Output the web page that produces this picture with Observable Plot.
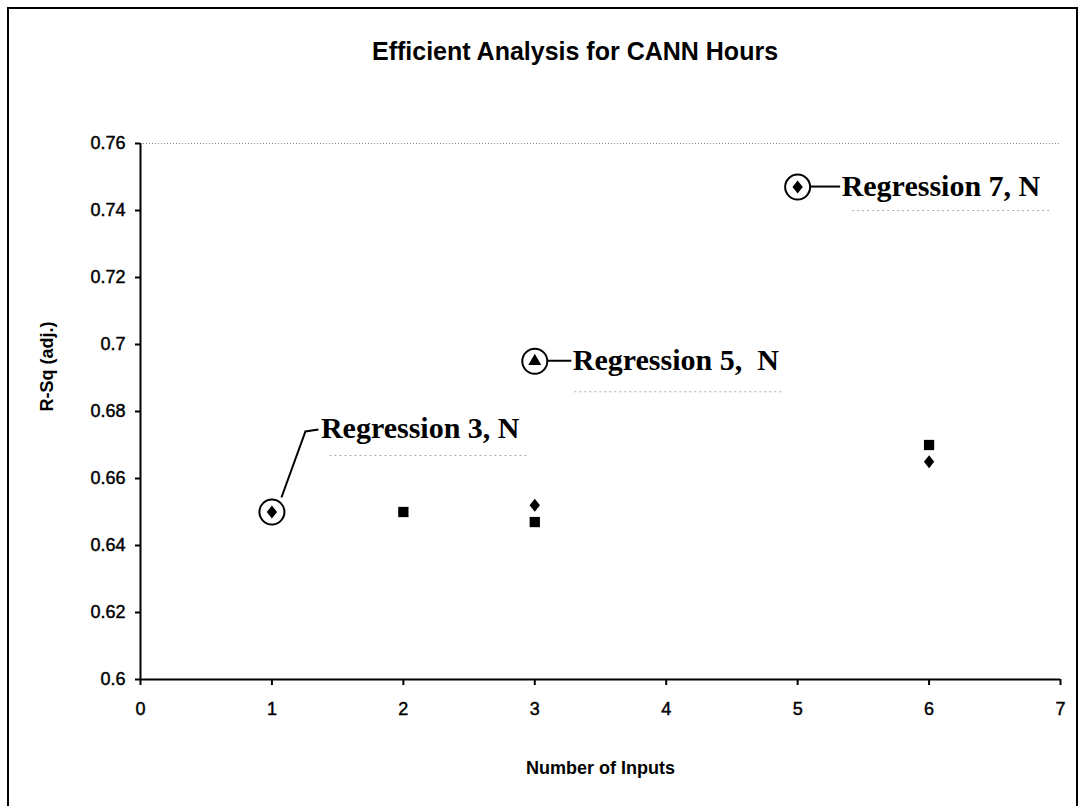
<!DOCTYPE html>
<html><head><meta charset="utf-8">
<script src="https://cdn.jsdelivr.net/npm/d3@7"></script>
<script src="https://cdn.jsdelivr.net/npm/@observablehq/plot@0.6"></script>
<style>
html,body{margin:0;padding:0;background:#fff;overflow:hidden;}
#wrap{position:relative;width:1080px;height:806px;}
#frame{position:absolute;left:7px;top:7px;width:1071px;height:830px;border:2px solid #000;border-bottom:none;box-sizing:border-box;}
#title{position:absolute;top:37px;left:0;width:1150px;text-align:center;font:bold 25px "Liberation Sans",Arial,sans-serif;color:#000;}
#chart{position:absolute;left:0;top:0;}
#chart g[aria-label="x-axis tick label"] text,
#chart g[aria-label="y-axis tick label"] text{stroke:#000;stroke-width:0.45px;}
</style></head>
<body>
<div id="wrap"><div id="frame"></div><div id="title">Efficient Analysis for CANN Hours</div><div id="chart"></div></div>
<script>
// ---- data ----
const diamondX = [1, 3, 5, 6];
const diamondY = [0.650, 0.652, 0.747, 0.665];
const squareX = [2, 3, 6];
const squareY = [0.650, 0.647, 0.670];
const triangleX = [3];
const triangleY = [0.695];
const annX = [1, 3, 5];
const annY = [0.650, 0.695, 0.747];
const annLabel = ["Regression 3, N", "Regression 5,  N", "Regression 7, N"];
const xTicks = [0, 1, 2, 3, 4, 5, 6, 7];
const yTicks = [0.6, 0.62, 0.64, 0.66, 0.68, 0.7, 0.72, 0.74, 0.76];
const xTitle = "Number of Inputs";
const yTitle = "R-Sq (adj.)";

// ---- layout (pixel offsets from the annotated point) ----
const annLayout = [
  {dx: 49, dy: -74, path: [[10,-14],[34,-80],[47,-82]], under: [58, -56, 200]},
  {dx: 38, dy: 9, path: [[13,0],[37,0]], under: [40, 31, 210]},
  {dx: 44, dy: 9, path: [[13,0],[43,0]], under: [55, 24, 200]}
];

const diamonds = diamondX.map((x, i) => ({x, y: diamondY[i]}));
const squares = squareX.map((x, i) => ({x, y: squareY[i]}));
const triangles = triangleX.map((x, i) => ({x, y: triangleY[i]}));
const anns = annX.map((x, i) => ({x, y: annY[i], label: annLabel[i], i}));

// diamond symbol a little wider than d3's default
const wideDiamond = {
  draw(ctx, size) {
    const h = Math.sqrt(size / 1.6), w = 0.8 * h;
    ctx.moveTo(0, -h); ctx.lineTo(w, 0); ctx.lineTo(0, h); ctx.lineTo(-w, 0); ctx.closePath();
  }
};

function leaderMark(data) {
  return (index, scales) => {
    const g = d3.create("svg:g");
    data.forEach(d => {
      const px = scales.x(d.x), py = scales.y(d.y);
      const L = annLayout[d.i];
      g.append("path")
        .attr("d", "M" + L.path.map(([a, b]) => (px + a) + "," + (py + b)).join("L"))
        .attr("fill", "none").attr("stroke", "#000").attr("stroke-width", 2);
      const [ux, uy, uw] = L.under;
      g.append("line")
        .attr("x1", px + ux).attr("x2", px + ux + uw)
        .attr("y1", py + uy).attr("y2", py + uy)
        .attr("stroke", "#aaa").attr("stroke-width", 1).attr("stroke-dasharray", "2,3");
    });
    return g.node();
  };
}

const fontSans = "'Liberation Sans', Arial, sans-serif";
const fontSerif = "'Liberation Serif', 'Times New Roman', serif";

const chart = Plot.plot({
  width: 1080,
  height: 806,
  marginLeft: 140,
  marginRight: 20,
  marginTop: 143,
  marginBottom: 127,
  style: {fontFamily: fontSans, fontSize: "18px", background: "transparent", color: "#000"},
  x: {domain: [0, 7]},
  y: {domain: [0.6, 0.76]},
  marks: [
    Plot.ruleY([0.76], {stroke: "#888", strokeWidth: 1, strokeDasharray: "1,2"}),
    Plot.axisX({ticks: xTicks, tickSize: 6, tickPadding: 17, tickFormat: d => String(d), label: null, strokeWidth: 2}),
    Plot.axisY({ticks: yTicks, tickSize: 5, tickPadding: 10, tickFormat: d => String(+d.toFixed(2)), label: null, strokeWidth: 2}),
    Plot.ruleX([0], {strokeWidth: 2}),
    Plot.ruleY([0.6], {strokeWidth: 2}),
    Plot.text([xTitle], {frameAnchor: "bottom", dy: 94, fontWeight: "bold", fontSize: 18, fontFamily: fontSans}),
    Plot.text([yTitle], {frameAnchor: "left", dx: -93, rotate: -90, fontWeight: "bold", fontSize: 18, fontFamily: fontSans}),
    Plot.dot(diamonds, {x: "x", y: "y", symbol: wideDiamond, r: 4.6, fill: "#000", stroke: "none"}),
    Plot.dot(squares, {x: "x", y: "y", symbol: "square", r: 5.8, fill: "#000", stroke: "none"}),
    Plot.dot(triangles, {x: "x", y: "y", symbol: "triangle", r: 4.8, fill: "#000", stroke: "none"}),
    Plot.dot(anns, {x: "x", y: "y", r: 12.5, fill: "none", stroke: "#000", strokeWidth: 2}),
    leaderMark(anns),
    ...anns.map((d, i) => Plot.text([d], {
      x: "x", y: "y", text: "label", textAnchor: "start", lineAnchor: "bottom",
      dx: annLayout[i].dx, dy: annLayout[i].dy,
      fontFamily: fontSerif, fontWeight: "bold", fontSize: 30, fill: "#000"
    }))
  ]
});
document.getElementById("chart").appendChild(chart);
</script>
</body></html>
